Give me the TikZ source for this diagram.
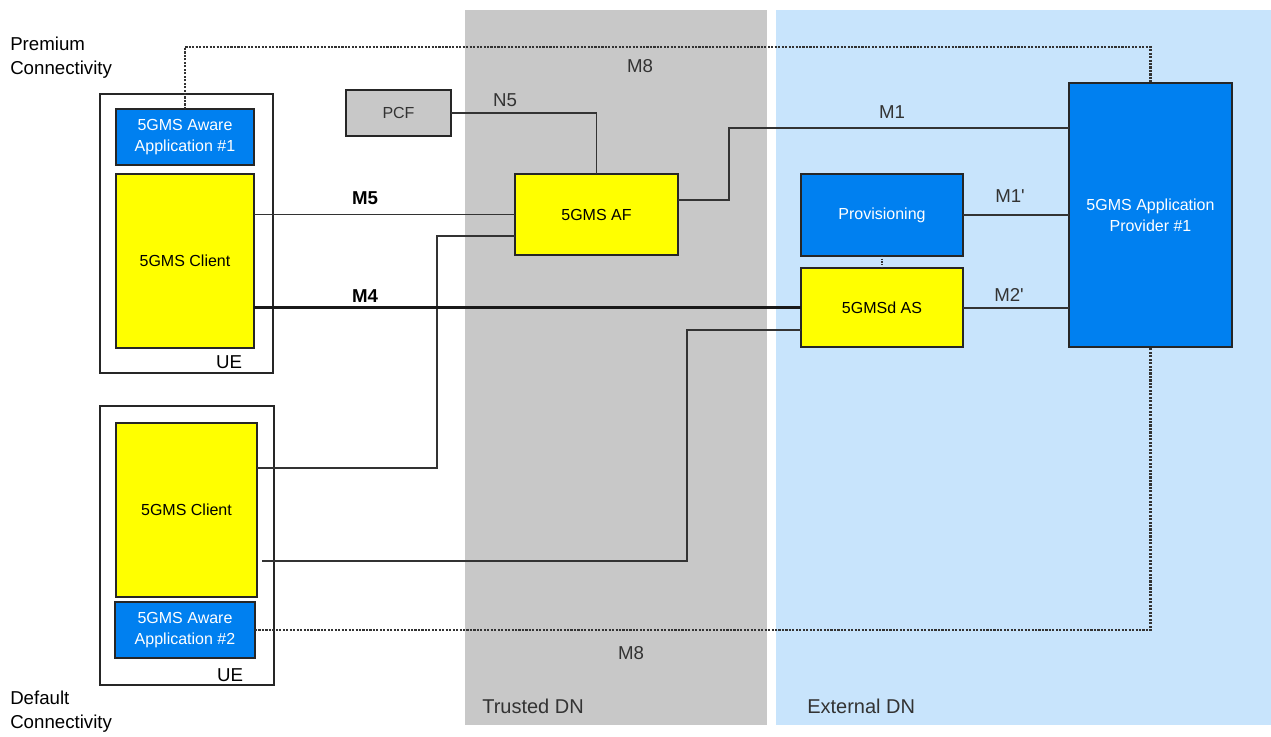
\documentclass[tikz,border=0pt]{standalone}
\usepackage{fontspec}
\setmainfont{Liberation Sans}
\usetikzlibrary{positioning}
\definecolor{TrustGray}{HTML}{C8C8C8}
\definecolor{ExtBlue}{HTML}{C8E4FC}
\definecolor{AppBlue}{HTML}{0080F0}
\definecolor{ClientYellow}{HTML}{FFFF00}
\definecolor{LineGray}{HTML}{333333}

\begin{document}
\begin{tikzpicture}[
    x=0.75pt, y=-0.75pt,
    nf/.style={draw=black!85, line width=1.3pt, align=center, inner sep=2pt, outer sep=0pt,
      font=\fontsize{12}{16}\selectfont},
    yellowbox/.style={nf, fill=ClientYellow, text=black},
    bluebox/.style={nf, fill=AppBlue, text=white},
    graybox/.style={nf, fill=TrustGray, text=LineGray},
    uebox/.style={draw=black!85, line width=1.3pt, fill=white, outer sep=0pt},
    link/.style={draw=LineGray, line width=1pt},
    heavy/.style={draw=black!90, line width=1.8pt},
    m8line/.style={draw=black!80, densely dotted, line width=1.6pt},
    lbl/.style={text=LineGray, font=\fontsize{14}{16}\selectfont, inner sep=0pt},
    boldlbl/.style={text=black, font=\fontsize{14}{16}\selectfont\bfseries, inner sep=0pt},
    arealbl/.style={text=LineGray, font=\fontsize{15}{17}\selectfont, inner sep=0pt, anchor=west},
    sidelbl/.style={text=black, font=\fontsize{14}{18}\selectfont, inner sep=0pt, align=left, anchor=west}
  ]
    \useasboundingbox (0,0) rectangle (1271,736);

    % data networks
    \fill[TrustGray] (465,10) rectangle (767,725);
    \fill[ExtBlue] (776,10) rectangle (1271,725);
    \node[arealbl] (trustlbl) at (482,706) {Trusted DN};
    \node[arealbl] (extlbl) at (807,706) {External DN};

    \node[sidelbl] (premium) at (10,58) {Premium\\Connectivity};
    \node[sidelbl] (default) at (10,712) {Default\\Connectivity};

    % premium UE
    \node[uebox, minimum width=129.75pt, minimum height=209.25pt] (ue1) at (186.5,233.5) {};
    \node[bluebox, minimum width=103.5pt, minimum height=42pt] (app1) at (185,137) {5GMS Aware\\Application \#1};
    \node[yellowbox, minimum width=103.5pt, minimum height=130.5pt] (client1) at (185,261) {5GMS Client};
    \node[lbl, text=black] (ue1lbl) at (229,362) {UE};

    % default UE
    \node[uebox, minimum width=130.5pt, minimum height=209.25pt] (ue2) at (187,545.5) {};
    \node[yellowbox, minimum width=105.75pt, minimum height=130.5pt] (client2) at (186.5,510) {5GMS Client};
    \node[bluebox, minimum width=105pt, minimum height=42pt] (app2) at (185,630) {5GMS Aware\\Application \#2};
    \node[lbl, text=black] (ue2lbl) at (230,675) {UE};

    % network functions
    \node[graybox, minimum width=78.75pt, minimum height=34.5pt] (pcf) at (398.5,113) {PCF};
    \node[yellowbox, minimum width=122.25pt, minimum height=60.75pt] (af) at (596.5,214.5) {5GMS AF};
    \node[bluebox, minimum width=121.5pt, minimum height=61.5pt] (prov) at (882,215) {Provisioning};
    \node[yellowbox, minimum width=121.5pt, minimum height=59.25pt] (as) at (882,307.5) {5GMSd AS};
    \node[bluebox, minimum width=122.25pt, minimum height=198pt, font=\fontsize{12}{15.75}\selectfont] (provider) at (1150.5,215) {5GMS Application\\Provider \#1};

    % interfaces
    \coordinate (m8top) at (640,47);
    \coordinate (c2af) at (437,350);
    \coordinate (c2as) at (687,450);
    \draw[m8line] (app1.north) |- (m8top) -| (provider.north);
    \draw[m8line] (app2.east) -| (provider.south);
    \draw[link] (pcf.east) -| (af.north);
    \draw[link, line width=1.3pt] (client1.east |- af.west) -- (af.west);
    \draw[link] ([yshift=10.9pt]af.east) -- ++(51,0) |- ([yshift=65.25pt]provider.west);
    \draw[link] ([yshift=31.5pt]client2.east) -| (c2af) |- ([yshift=-16.1pt]af.west);
    \draw[heavy] (client1.east |- as.west) -- (as.west);
    \draw[link, line width=1.3pt] ([xshift=4pt, yshift=-38.25pt]client2.east) -| (c2as) |- ([yshift=-16.9pt]as.west);
    \draw[link] (prov.east) -- (provider.west |- prov.east);
    \draw[link, line width=1.5pt] (as.east) -- (provider.west |- as.east);
    \draw[m8line, line width=1pt] (prov.south) -- (as.north);

    \node[lbl] (m8toplbl) at (640,66) {M8};
    \node[lbl] (m8botlbl) at (631,653) {M8};
    \node[lbl] (n5lbl) at (505,100) {N5};
    \node[boldlbl] (m5lbl) at (365,198) {M5};
    \node[boldlbl] (m4lbl) at (365,296) {M4};
    \node[lbl] (m1lbl) at (892,112) {M1};
    \node[lbl] (m1plbl) at (1010,196) {M1\textquotesingle};
    \node[lbl] (m2plbl) at (1009,295) {M2\textquotesingle};
  \end{tikzpicture}
\end{document}
